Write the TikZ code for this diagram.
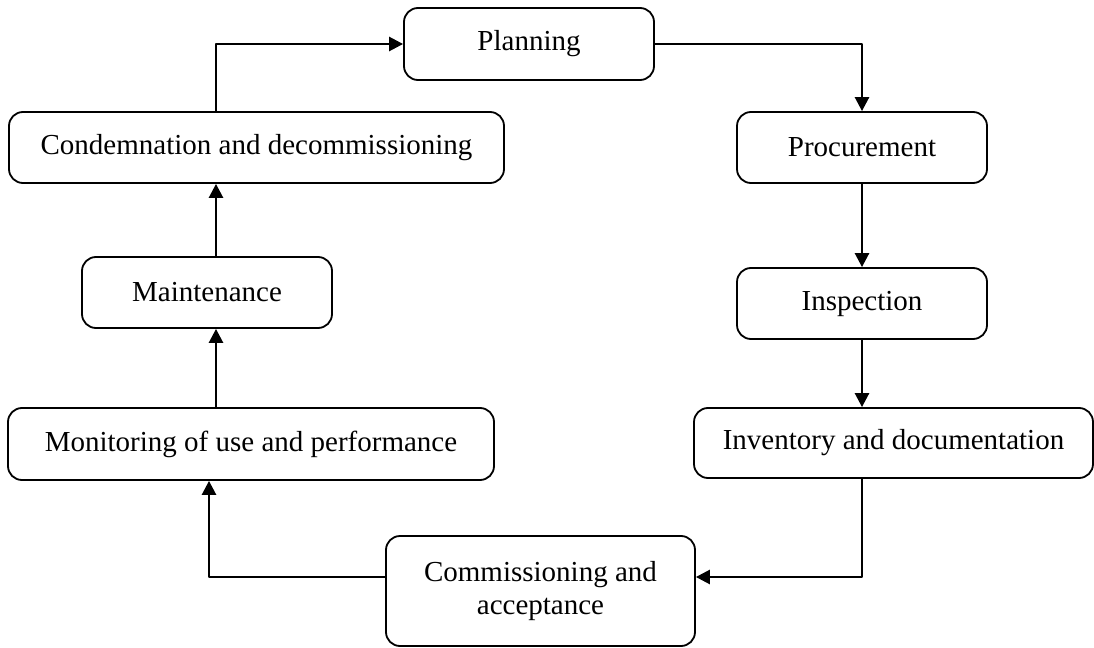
\documentclass[tikz,border=0pt]{standalone}
\usepackage{fontspec}
\setmainfont{Liberation Serif}
\usetikzlibrary{arrows.meta}

\begin{document}
\begin{tikzpicture}[x=0.5pt,y=-0.5pt,>={Triangle[length=7pt,width=7pt]},line join=round,
  stage/.style={draw,line width=0.9pt,rounded corners=7pt,inner sep=0pt,
    minimum height=35.5pt,align=center,font=\fontsize{14.5}{16.5}\selectfont},
  flow/.style={->,line width=1.3pt}]
  \useasboundingbox (0,0) rectangle (1094,648);

  % stages of the cycle
  \node[stage,minimum width=125pt,minimum height=36pt] (plan) at (529,44) {Planning};
  \node[stage,minimum width=125pt] (proc) at (862,147.5) {Procurement};
  \node[stage,minimum width=125pt] (insp) at (862,303.5) {Inspection};
  \node[stage,minimum width=199.5pt,minimum height=35pt] (inv) at (893.5,443) {Inventory and documentation};
  \node[stage,minimum width=154.5pt,minimum height=55pt] (comm) at (540.5,591) {Commissioning and\\acceptance};
  \node[stage,minimum width=243pt,minimum height=36pt] (mon) at (251,444) {Monitoring of use and performance};
  \node[stage,minimum width=125pt] (maint) at (207,292.5) {Maintenance};
  \node[stage,minimum width=247.5pt] (cond) at (256.5,147.5) {Condemnation and decommissioning};

  \coordinate (up) at (216,0);
  \coordinate (back) at (209,0);
  \coordinate (entry) at (0,577);

  \draw[flow] (plan.east) -| (proc.north);
  \draw[flow] (proc.south) -- (insp.north);
  \draw[flow] (insp.south) -- (insp.south |- inv.north);
  \draw[flow] (inv.south -| insp.south) |- (comm.east |- entry);
  \draw[flow] (comm.west |- entry) -| (back |- mon.south);
  \draw[flow] (mon.north -| up) -- (maint.south -| up);
  \draw[flow] (maint.north -| up) -- (cond.south -| up);
  \draw[flow] (cond.north -| up) |- (plan.west);
\end{tikzpicture}
\end{document}
